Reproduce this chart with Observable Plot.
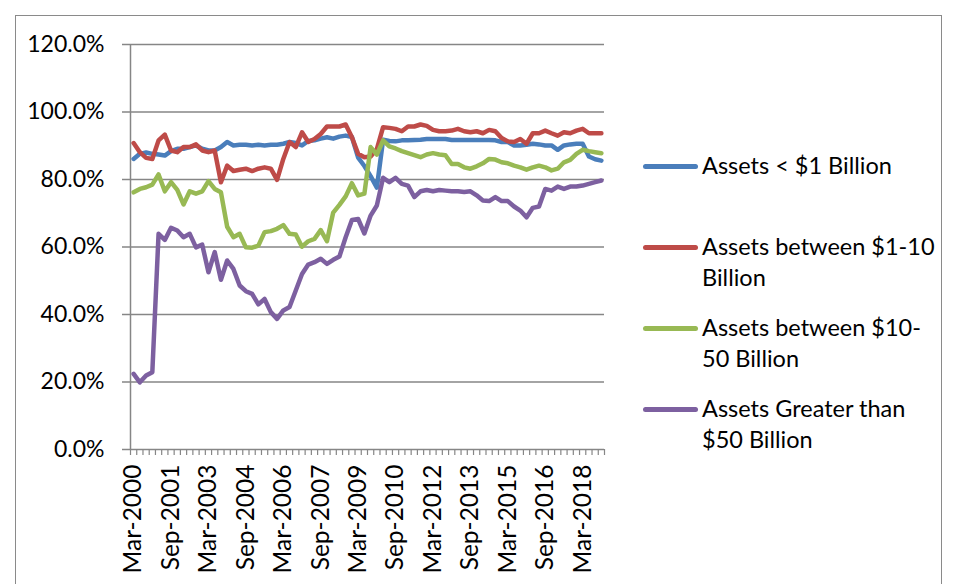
<!DOCTYPE html>
<html><head><meta charset="utf-8">
<script src="https://cdn.jsdelivr.net/npm/d3@7"></script>
<script src="https://cdn.jsdelivr.net/npm/@observablehq/plot@0.6"></script>
<style>
body{margin:0;background:#fff;}
#wrap{position:relative;width:956px;height:584px;overflow:hidden;font-family:Lato, sans-serif;background:#fff;}
#frame{position:absolute;left:15px;top:15px;width:925px;height:600px;border:1px solid #8a8a8a;}
#chart{position:absolute;left:0;top:0;}
#legend{position:absolute;left:643px;top:150px;}
.entry{display:flex;height:81px;align-items:flex-start;}
.sw{width:55px;height:5px;border-radius:3px;margin-top:14px;flex:none;}
.lab{font-size:23.5px;line-height:31px;margin-left:4px;color:#000;white-space:nowrap;}
</style></head>
<body><div id="wrap"><div id="frame"></div><div id="chart"></div><div id="legend"></div></div>
<script>
// Categories: quarterly, Mar-2000 .. Dec-2018 (76 quarters)
const months = ["Mar", "Jun", "Sep", "Dec"];
const quarters = [];
for (let y = 2000; y <= 2018; y++) for (const m of months) quarters.push(`${m}-${y}`);

const seriesNames = ["Assets < $1 Billion", "Assets between $1-10 Billion", "Assets between $10-50 Billion", "Assets Greater than $50 Billion"];
const legendLines = [["Assets < $1 Billion"], ["Assets between $1-10", "Billion"], ["Assets between $10-", "50 Billion"], ["Assets Greater than", "$50 Billion"]];
const colors = ["#4A7EBB", "#BE4B48", "#98B954", "#7D60A0"];

// values in percent
const under1 = [86.1,87.6,88.0,87.6,87.4,87.1,88.4,89.1,89.1,89.6,90.1,89.1,88.6,88.6,89.6,91.1,90.1,90.3,90.3,90.1,90.3,90.1,90.3,90.3,90.6,91.1,90.8,90.1,91.4,91.6,92.1,92.5,92.1,92.7,93.0,92.6,86.5,84.0,81.0,77.6,91.8,91.4,91.3,91.6,91.6,91.7,91.8,92.0,92.0,92.0,92.0,91.7,91.7,91.7,91.7,91.7,91.7,91.7,91.6,91.1,91.1,90.1,90.1,90.3,90.6,90.4,90.1,90.1,88.8,90.1,90.4,90.6,90.6,86.8,86.0,85.6];
const b1to10 = [90.8,88.1,86.4,86.1,91.6,93.3,88.6,88.1,89.6,89.6,90.4,88.6,88.1,88.6,79.2,84.1,82.5,82.9,83.2,82.5,83.2,83.6,83.2,79.9,86.1,91.1,89.6,94.0,91.1,92.0,93.5,95.7,95.7,95.7,96.3,92.5,87.6,86.6,86.8,89.0,95.5,95.3,95.0,94.3,95.7,95.7,96.3,95.9,94.7,94.3,94.3,94.5,95.0,94.3,94.0,94.3,93.7,94.7,94.3,92.3,91.3,91.1,92.0,90.6,93.7,93.7,94.5,93.7,93.0,94.0,93.7,94.5,95.0,93.7,93.7,93.7];
const b10to50 = [76.2,77.2,77.7,78.5,81.5,76.5,79.2,76.9,72.6,76.5,75.8,76.5,79.5,77.2,76.2,66.0,62.9,63.9,59.9,59.8,60.4,64.4,64.7,65.4,66.5,63.9,63.7,60.1,61.7,62.4,65.0,61.7,70.2,72.5,75.0,78.9,75.3,75.8,89.6,87.4,91.6,89.8,89.2,88.4,87.8,87.2,86.6,87.4,87.8,87.4,87.2,84.6,84.6,83.6,83.2,83.9,84.8,86.1,85.9,85.1,84.8,84.1,83.6,82.9,83.6,84.1,83.6,82.7,83.2,85.1,85.8,87.6,88.8,88.4,88.1,87.8];
const over50 = [22.4,19.9,21.9,22.9,63.9,62.1,65.7,64.9,62.9,63.9,59.9,60.7,52.5,58.5,50.3,56.0,53.5,48.6,46.9,46.1,43.0,44.6,40.7,38.7,41.2,42.2,47.1,52.0,54.8,55.5,56.5,55.0,56.2,57.2,62.9,68.0,68.3,64.0,69.3,72.3,80.5,79.2,80.5,78.7,78.2,74.8,76.5,76.9,76.5,76.9,76.7,76.5,76.5,76.3,76.5,75.3,73.8,73.6,74.8,73.6,73.6,72.0,70.8,68.8,71.6,72.0,77.2,76.7,77.9,77.2,77.9,77.9,78.2,78.7,79.2,79.7];
const seriesValues = [under1, b1to10, b10to50, over50];

const yTicks = [0, 0.2, 0.4, 0.6, 0.8, 1.0, 1.2];
const labelIdx = quarters.map((q, i) => i).filter(i => i % 6 === 0);
const boundaries = d3.range(quarters.length + 1).map(i => i - 0.5);

const lineMarks = seriesValues.map((vals, s) =>
  Plot.line(vals.map((v, i) => ({i, v: v / 100})), {
    x: "i", y: "v", stroke: colors[s], strokeWidth: 4.5,
    strokeLinejoin: "round", strokeLinecap: "round"
  })
);

const chart = Plot.plot({
  width: 956, height: 584,
  marginLeft: 130, marginRight: 352, marginTop: 44, marginBottom: 135,
  x: {type: "linear", domain: [-0.5, quarters.length - 0.5], label: null},
  y: {domain: [0, 1.2], label: null},
  style: {fontFamily: "Lato, sans-serif", fontSize: "23px", color: "#000", background: "transparent"},
  marks: [
    Plot.gridY(yTicks, {stroke: "#868686", strokeOpacity: 1, strokeWidth: 1.5}),
    Plot.axisY(yTicks, {tickFormat: d3.format(".1%"), tickSize: 8, tickPadding: 18, stroke: "#868686", strokeWidth: 1.5, label: null}),
    Plot.ruleX([-0.5], {stroke: "#868686", strokeWidth: 1.5, y1: 0, y2: 1.2}),
    Plot.axisX(boundaries, {tickSize: 6, tickFormat: () => "", stroke: "#868686", strokeWidth: 1.2, label: null}),
    Plot.axisX(labelIdx, {tickSize: 0, tickPadding: 15, tickRotate: -90, tickFormat: i => quarters[i], fontSize: 24.5, label: null}),
    ...lineMarks
  ]
});
document.getElementById("chart").appendChild(chart);

const legend = document.getElementById("legend");
legendLines.forEach((lines, s) => {
  const e = document.createElement("div");
  e.className = "entry";
  const sw = document.createElement("div");
  sw.className = "sw"; sw.style.background = colors[s];
  const lab = document.createElement("div");
  lab.className = "lab";
  lab.title = seriesNames[s];
  lines.forEach((t, k) => { if (k) lab.appendChild(document.createElement("br")); lab.appendChild(document.createTextNode(t)); });
  e.appendChild(sw); e.appendChild(lab);
  legend.appendChild(e);
});
</script>
</body></html>
